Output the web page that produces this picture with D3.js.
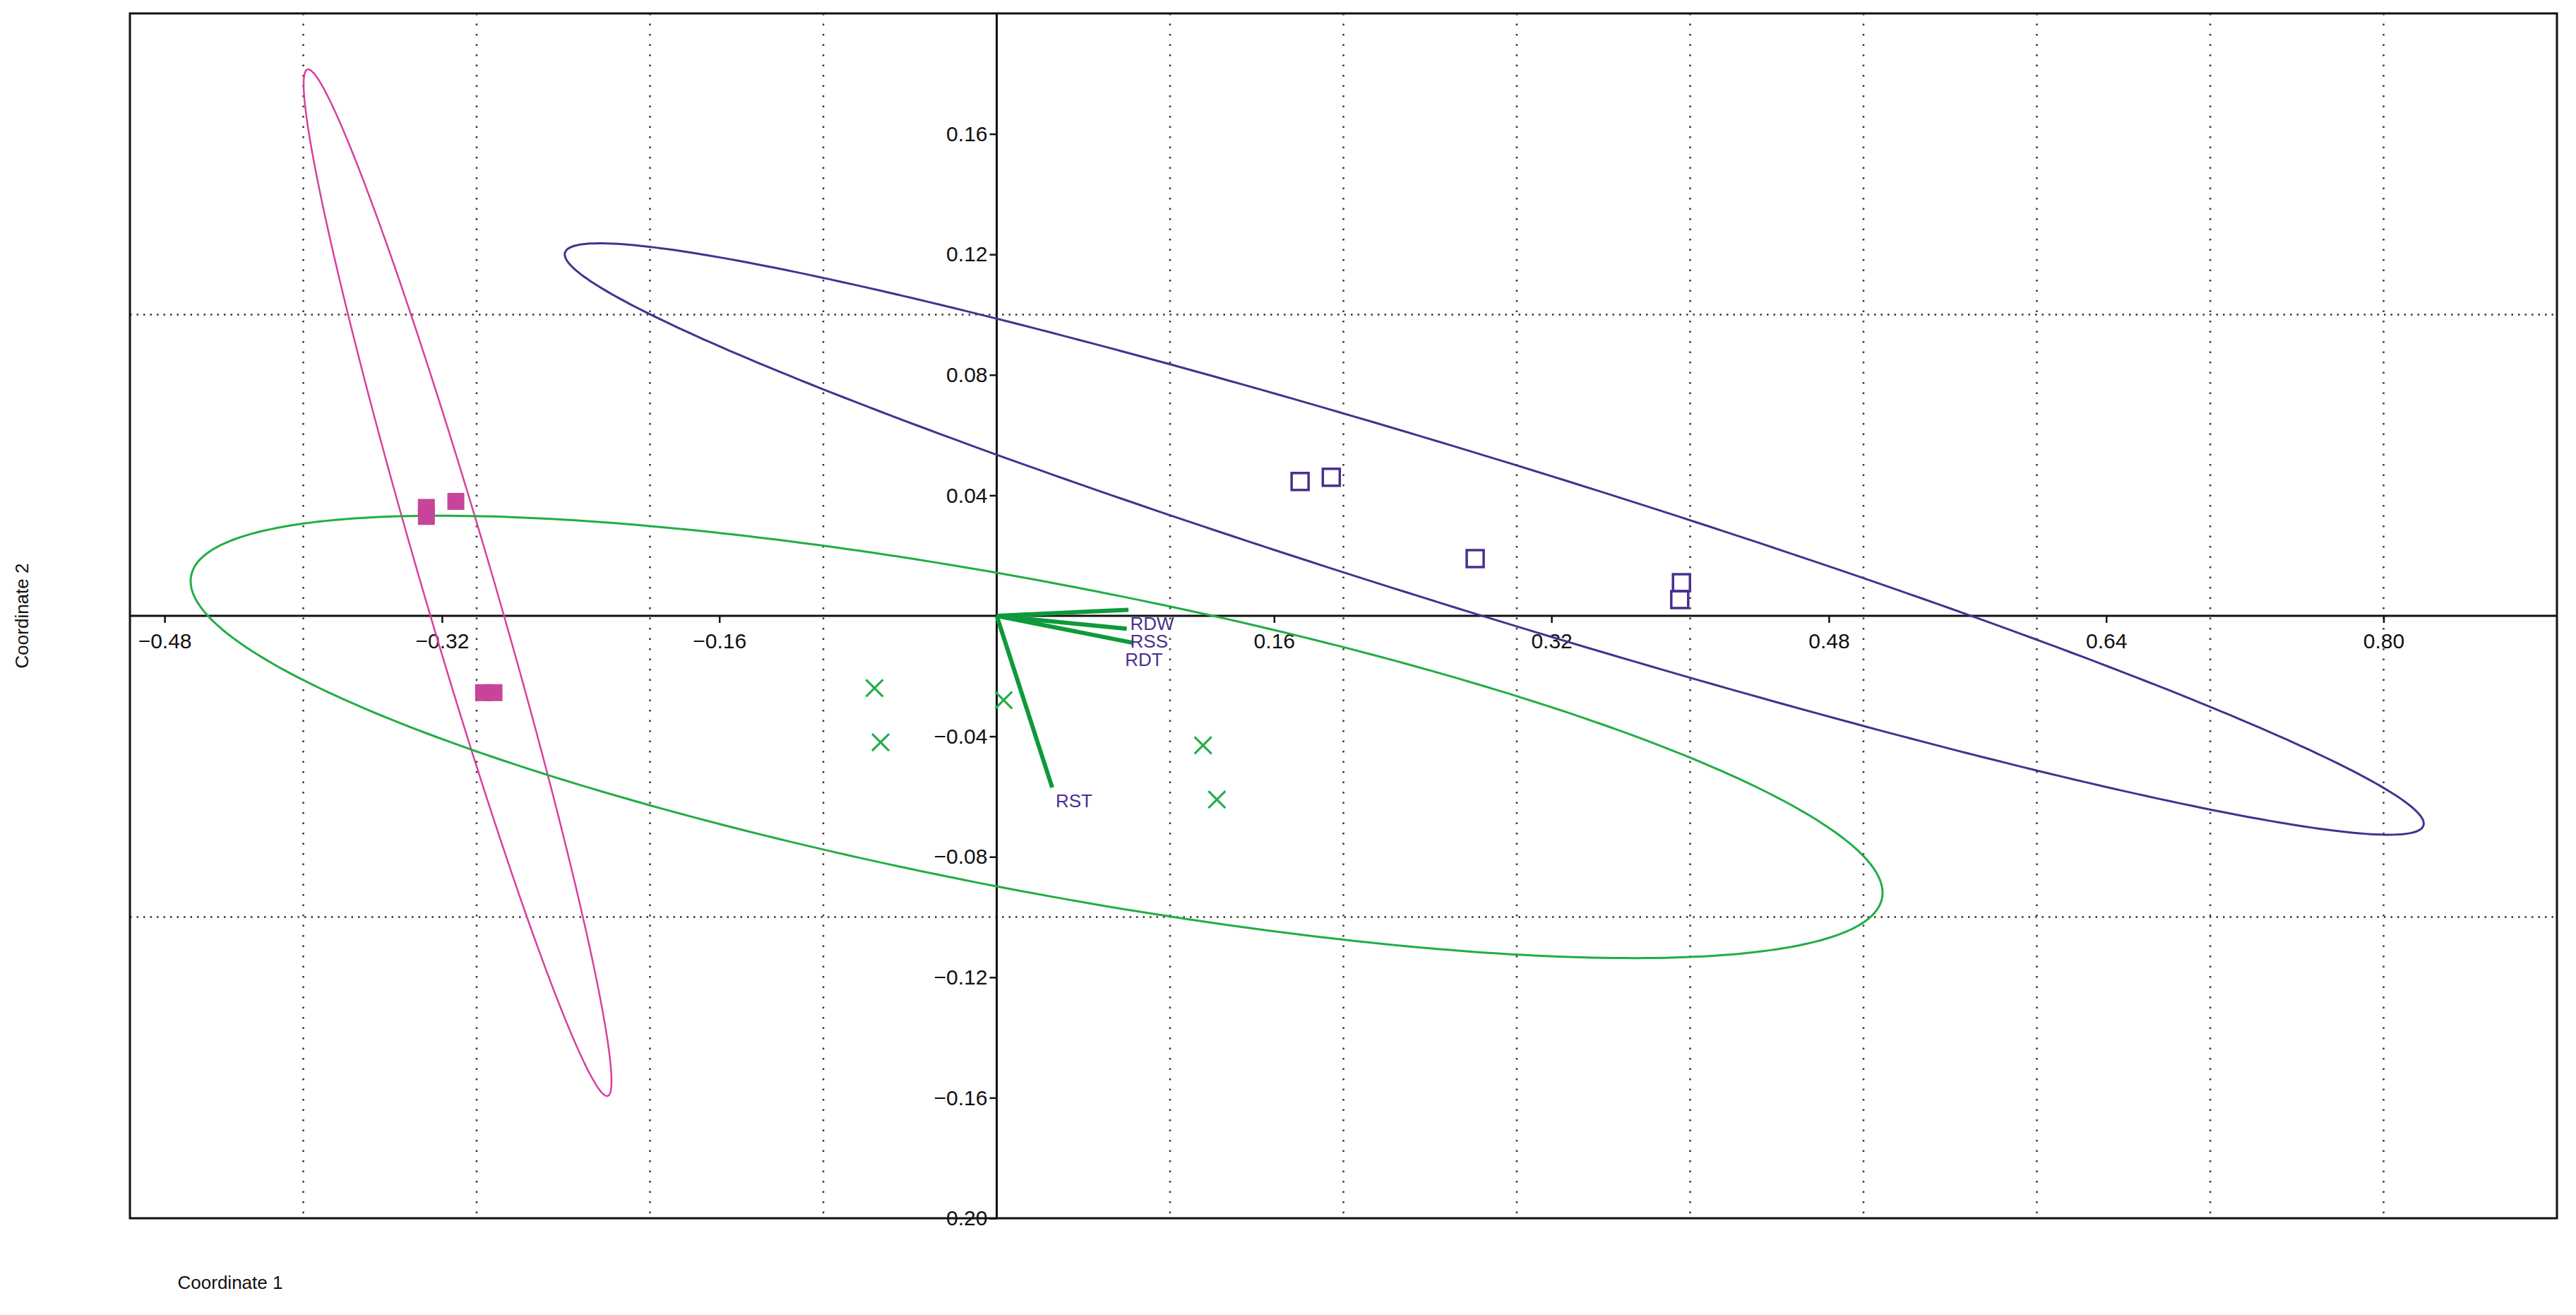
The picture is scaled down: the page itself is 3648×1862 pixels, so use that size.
<!DOCTYPE html>
<html><head><meta charset="utf-8">
<script src="https://cdn.jsdelivr.net/npm/d3@7"></script>
<style>body{margin:0;background:#fff}svg{display:block}</style>
</head><body><svg id="c" width="3648" height="1862"></svg>
<script>
const xTicks=[-0.48,-0.32,-0.16,0.16,0.32,0.48,0.64,0.80];
const yTicks=[0.16,0.12,0.08,0.04,-0.04,-0.08,-0.12,-0.16,-0.20];
const xGrid=[-0.4,-0.3,-0.2,-0.1,0.1,0.2,0.3,0.4,0.5,0.6,0.7,0.8];
const yGrid=[0.1,-0.1];
const groupA=[[-0.329,0.036],[-0.329,0.033],[-0.312,0.038],[-0.296,-0.0255],[-0.290,-0.0255]];
const groupB=[[0.175,0.0446],[0.193,0.046],[0.276,0.019],[0.395,0.011],[0.394,0.0054]];
const groupC=[[-0.0705,-0.024],[-0.067,-0.042],[0.004,-0.028],[0.119,-0.043],[0.127,-0.061]];
const vectors=[{n:"RDW",x:0.076,y:0.002},{n:"RSS",x:0.075,y:-0.0043},{n:"RDT",x:0.079,y:-0.009},{n:"RST",x:0.032,y:-0.057}];
const vecLabels=[{n:"RDW",x:0.077,y:-0.0025},{n:"RSS",x:0.077,y:-0.0085},{n:"RDT",x:0.074,y:-0.0145},{n:"RST",x:0.034,y:-0.0615}];
// ellipses: center, major half-vector, minor half-vector (data units)
const ellipses=[
 {c:[-0.311,0.011],a:[-0.0866,0.1704],b:[0.0196,0.0033],col:"#d6409f",w:2.5},
 {c:[0.287,0.0255],a:[0.536,-0.0951],b:[-0.0132,-0.0244],col:"#4a2f8e",w:3},
 {c:[0.023,-0.0402],a:[0.4877,-0.0535],b:[-0.0168,-0.0503],col:"#22ad45",w:3}];

const svg=d3.select("#c");
const x=d3.scaleLinear().domain([-0.5,0.9]).range([184,3621]);
const y=d3.scaleLinear().domain([-0.2,0.2]).range([1725,19]);
const font="'Liberation Sans Narrow','Liberation Sans',Arial,sans-serif";

svg.selectAll(".gx").data(xGrid).enter().append("line")
 .attr("x1",d=>x(d)).attr("x2",d=>x(d)).attr("y1",y(0.2)).attr("y2",y(-0.2))
 .attr("stroke","#333").attr("stroke-width",2.5).attr("stroke-dasharray","2.5,12");
svg.selectAll(".gy").data(yGrid).enter().append("line")
 .attr("y1",d=>y(d)).attr("y2",d=>y(d)).attr("x1",x(-0.5)).attr("x2",x(0.9))
 .attr("stroke","#333").attr("stroke-width",2.5).attr("stroke-dasharray","2.5,7");
svg.append("rect").attr("x",x(-0.5)).attr("y",y(0.2)).attr("width",x(0.9)-x(-0.5)).attr("height",y(-0.2)-y(0.2))
 .attr("fill","none").attr("stroke","#111").attr("stroke-width",3);
const xa=svg.append("g").attr("transform",`translate(0,${y(0)})`)
 .call(d3.axisBottom(x).tickValues(xTicks).tickSize(10).tickSizeOuter(0).tickFormat(d3.format(".2f")));
const ya=svg.append("g").attr("transform",`translate(${x(0)},0)`)
 .call(d3.axisLeft(y).tickValues(yTicks).tickSize(10).tickSizeOuter(0).tickFormat(d3.format(".2f")));
[xa,ya].forEach(g=>{g.select(".domain").remove();
 g.selectAll("line").attr("stroke","#111").attr("stroke-width",2.5);
 g.selectAll("text").attr("font-family",font).attr("font-size",30).attr("fill","#111");});
xa.selectAll("text").attr("dy","1.1em");
svg.append("line").attr("x1",x(-0.5)).attr("x2",x(0.9)).attr("y1",y(0)).attr("y2",y(0)).attr("stroke","#111").attr("stroke-width",3);
svg.append("line").attr("x1",x(0)).attr("x2",x(0)).attr("y1",y(0.2)).attr("y2",y(-0.2)).attr("stroke","#111").attr("stroke-width",3);

const th=d3.range(0,361,1).map(d=>d*Math.PI/180);
const line=d3.line().x(d=>x(d[0])).y(d=>y(d[1]));
ellipses.forEach(e=>{
 const pts=th.map(t=>[e.c[0]+e.a[0]*Math.cos(t)+e.b[0]*Math.sin(t),e.c[1]+e.a[1]*Math.cos(t)+e.b[1]*Math.sin(t)]);
 svg.append("path").attr("d",line(pts)).attr("fill","none").attr("stroke",e.col).attr("stroke-width",e.w);
});

svg.selectAll(".v").data(vectors).enter().append("line")
 .attr("x1",x(0)).attr("y1",y(0)).attr("x2",d=>x(d.x)).attr("y2",d=>y(d.y))
 .attr("stroke","#0e9a3a").attr("stroke-width",6);
svg.selectAll(".vl").data(vecLabels).enter().append("text")
 .attr("x",d=>x(d.x)).attr("y",d=>y(d.y)).attr("dy","0.35em").text(d=>d.n)
 .attr("font-family",font).attr("font-size",26).attr("fill","#4a2f8e");

const s=24;
svg.selectAll(".pa").data(groupA).enter().append("rect")
 .attr("x",d=>x(d[0])-s/2).attr("y",d=>y(d[1])-s/2).attr("width",s).attr("height",s).attr("fill","#c8449a");
svg.selectAll(".pb").data(groupB).enter().append("rect")
 .attr("x",d=>x(d[0])-s/2).attr("y",d=>y(d[1])-s/2).attr("width",s).attr("height",s)
 .attr("fill","none").attr("stroke","#4a2f8e").attr("stroke-width",3.5);
const h=12;
svg.selectAll(".pc").data(groupC).enter().append("path")
 .attr("d",d=>{const px=x(d[0]),py=y(d[1]);return `M${px-h},${py-h}L${px+h},${py+h}M${px-h},${py+h}L${px+h},${py-h}`;})
 .attr("stroke","#22ad45").attr("stroke-width",3);

svg.append("text").attr("x",326).attr("y",1825).attr("text-anchor","middle").text("Coordinate 1")
 .attr("font-family","'Liberation Sans',Arial,sans-serif").attr("font-size",26).attr("fill","#111");
svg.append("text").attr("transform",`translate(40,${y(0)}) rotate(-90)`).attr("text-anchor","middle").text("Coordinate 2")
 .attr("font-family","'Liberation Sans',Arial,sans-serif").attr("font-size",26).attr("fill","#111");
</script></body></html>
